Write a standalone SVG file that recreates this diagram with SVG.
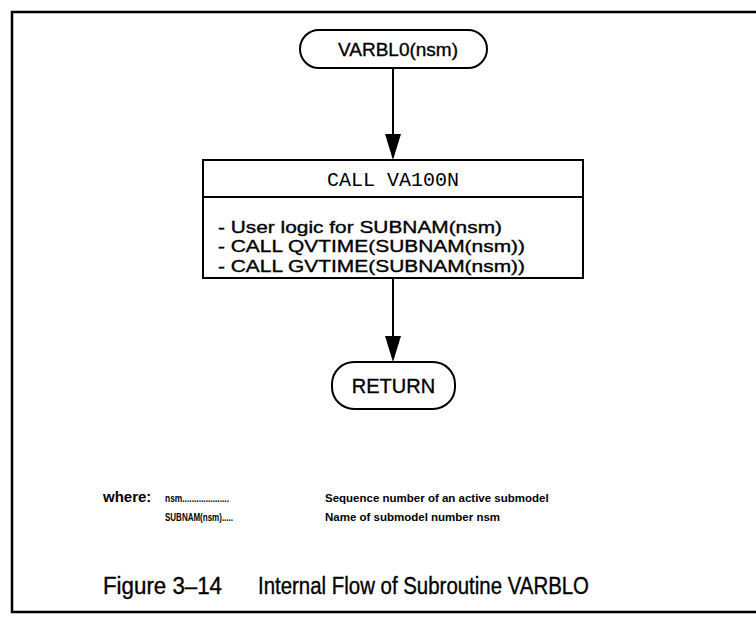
<svg xmlns="http://www.w3.org/2000/svg" width="756" height="623" viewBox="0 0 756 623">
  <defs>
    <style>
      .frame { fill: none; stroke: #000; stroke-width: 2.5; }
      .shape { fill: #fff; stroke: #000; stroke-width: 2; }
      .line { fill: none; stroke: #000; stroke-width: 2; }
      .head { fill: #000; stroke: none; }
      .sans { font-family: "Liberation Sans", Arial, Helvetica, sans-serif; fill: #000; }
      .mono { font-family: "Liberation Mono", "Courier New", monospace; fill: #000; }
      .ink { stroke: #000; stroke-width: 0.35; }
      .label { font-size: 19px; }
      .body { font-size: 17.4px; }
      .head-text { font-size: 20px; }
      .legend { font-size: 11.5px; font-weight: bold; }
      .key { font-size: 11px; font-weight: bold; }
      .caption { font-size: 23px; }
    </style>
  </defs>

  <rect width="756" height="623" fill="#fff"/>

  <!-- outer frame: open on the right side -->
  <path class="frame" d="M756,12 H12 V612 H756"/>

  <!-- connectors -->
  <g id="connectors">
    <line class="line" x1="393" y1="68" x2="393" y2="140"/>
    <polygon class="head" points="385,134 401,134 393,160"/>
    <line class="line" x1="393" y1="278" x2="393" y2="342"/>
    <polygon class="head" points="385,336 401,336 393,362"/>
  </g>

  <!-- entry terminal -->
  <g id="start">
    <rect class="shape" x="300" y="30" width="187" height="38" rx="19" ry="19"/>
    <text class="sans label ink" x="338" y="56" textLength="120" lengthAdjust="spacingAndGlyphs">VARBL0(nsm)</text>
  </g>

  <!-- process box -->
  <g id="va100n">
    <rect class="shape" x="203" y="160" width="380" height="118"/>
    <line class="line" x1="203" y1="197" x2="583" y2="197"/>
    <text class="mono head-text" x="393" y="186" text-anchor="middle">CALL VA100N</text>
    <text class="sans body ink" x="218" y="232.5" textLength="284" lengthAdjust="spacingAndGlyphs">- User logic for SUBNAM(nsm)</text>
    <text class="sans body ink" x="218" y="252" textLength="307" lengthAdjust="spacingAndGlyphs">- CALL QVTIME(SUBNAM(nsm))</text>
    <text class="sans body ink" x="218" y="271.5" textLength="307" lengthAdjust="spacingAndGlyphs">- CALL GVTIME(SUBNAM(nsm))</text>
  </g>

  <!-- exit terminal -->
  <g id="return">
    <rect class="shape" x="332" y="362" width="123" height="47" rx="22" ry="22"/>
    <text class="sans head-text ink" x="393.5" y="393" text-anchor="middle">RETURN</text>
  </g>

  <!-- legend -->
  <g id="legend">
    <text class="sans" x="103" y="502" font-size="15" font-weight="bold">where:</text>
    <text class="sans key" x="165" y="502" textLength="64" lengthAdjust="spacingAndGlyphs">nsm....................</text>
    <text class="sans legend" x="325" y="502">Sequence number of an active submodel</text>
    <text class="sans key" x="165" y="521" textLength="68" lengthAdjust="spacingAndGlyphs">SUBNAM(nsm).....</text>
    <text class="sans legend" x="325" y="521">Name of submodel number nsm</text>
  </g>

  <!-- caption -->
  <g id="caption">
    <text class="sans caption ink" x="103" y="594" textLength="119" lengthAdjust="spacingAndGlyphs">Figure 3–14</text>
    <text class="sans caption ink" x="258" y="594" textLength="331" lengthAdjust="spacingAndGlyphs">Internal Flow of Subroutine VARBLO</text>
  </g>
</svg>
